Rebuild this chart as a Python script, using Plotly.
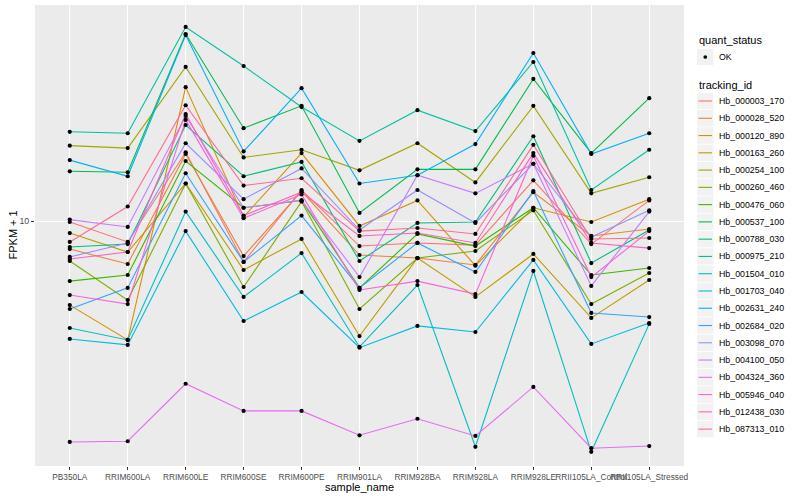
import plotly.graph_objects as go

# ---------------- data ----------------
sample_names = ["PB350LA", "RRIM600LA", "RRIM600LE", "RRIM600SE", "RRIM600PE",
                "RRIM901LA", "RRIM928BA", "RRIM928LA", "RRIM928LE",
                "RRII105LA_Control", "RRII105LA_Stressed"]

tracking_ids = ["Hb_000003_170", "Hb_000028_520", "Hb_000120_890", "Hb_000163_260",
                "Hb_000254_100", "Hb_000260_460", "Hb_000476_060", "Hb_000537_100",
                "Hb_000788_030", "Hb_000975_210", "Hb_001504_010", "Hb_001703_040",
                "Hb_002631_240", "Hb_002684_020", "Hb_003098_070", "Hb_004100_050",
                "Hb_004324_360", "Hb_005946_040", "Hb_012438_030", "Hb_087313_010"]

# FPKM + 1 per tracking_id, in sample_names order
Hb_000003_170 = [9.93, 8.60, 16.4, 7.45, 12.5, 8.35, 8.54, 8.41, 13.4, 8.47, 11.6]
Hb_000028_520 = [8.17, 7.34, 16.2, 7.77, 12.4, 7.83, 7.66, 7.29, 12.3, 8.98, 9.44]
Hb_000120_890 = [5.46, 4.25, 26.2, 10.3, 16.3, 9.65, 11.6, 7.25, 11.0, 9.93, 11.7]
Hb_000163_260 = [9.17, 8.00, 13.1, 7.03, 8.79, 4.37, 7.66, 5.79, 7.89, 4.98, 6.54]
Hb_000254_100 = [17.2, 16.9, 30.3, 15.8, 16.7, 14.4, 17.5, 13.2, 22.9, 12.2, 13.7]
Hb_000260_460 = [7.50, 5.66, 13.1, 6.22, 11.5, 5.31, 7.66, 8.06, 10.8, 5.50, 6.88]
Hb_000476_060 = [6.49, 6.78, 15.4, 11.0, 11.6, 6.18, 9.11, 8.35, 11.0, 6.78, 7.13]
Hb_000537_100 = [14.3, 14.2, 38.4, 19.5, 22.9, 10.6, 14.5, 14.5, 27.8, 16.3, 24.2]
Hb_000788_030 = [8.29, 8.47, 19.95, 13.8, 15.3, 7.50, 9.86, 9.93, 18.4, 7.39, 9.37]
Hb_000975_210 = [19.0, 18.8, 40.4, 30.5, 22.7, 17.8, 22.2, 19.1, 31.4, 12.5, 16.7]
Hb_001504_010 = [4.63, 4.25, 10.7, 5.79, 7.94, 4.04, 6.31, 1.97, 6.98, 1.90, 4.77]
Hb_001703_040 = [4.28, 4.10, 9.30, 4.87, 6.00, 4.02, 4.70, 4.50, 7.56, 4.13, 4.80]
Hb_002631_240 = [15.5, 13.8, 38.1, 16.5, 26.0, 13.1, 13.9, 17.4, 33.5, 16.2, 18.8]
Hb_002684_020 = [5.31, 6.18, 14.1, 7.45, 10.4, 6.18, 8.54, 6.93, 12.4, 5.16, 5.01]
Hb_003098_070 = [7.72, 8.54, 17.5, 11.7, 14.6, 9.37, 12.5, 9.86, 15.1, 8.91, 10.8]
Hb_004100_050 = [10.1, 9.58, 21.3, 11.0, 11.6, 6.68, 13.9, 12.2, 15.1, 6.27, 10.7]
Hb_004324_360 = [2.04, 2.05, 3.10, 2.55, 2.55, 2.14, 2.41, 2.13, 3.03, 1.95, 1.98]
Hb_005946_040 = [5.87, 5.50, 20.7, 10.2, 12.1, 6.09, 6.49, 5.91, 16.0, 6.68, 9.30]
Hb_012438_030 = [7.61, 8.00, 21.6, 10.4, 12.3, 8.98, 9.17, 8.54, 16.3, 8.54, 8.23]
Hb_087313_010 = [8.60, 11.1, 23.0, 12.9, 13.6, 9.30, 9.51, 9.11, 17.3, 8.79, 8.85]

series = [Hb_000003_170, Hb_000028_520, Hb_000120_890, Hb_000163_260, Hb_000254_100,
          Hb_000260_460, Hb_000476_060, Hb_000537_100, Hb_000788_030, Hb_000975_210,
          Hb_001504_010, Hb_001703_040, Hb_002631_240, Hb_002684_020, Hb_003098_070,
          Hb_004100_050, Hb_004324_360, Hb_005946_040, Hb_012438_030, Hb_087313_010]

quant_status = ["OK"]

# ---------------- style ----------------
colors = ["#F8766D", "#EA8331", "#D89000", "#C09B00", "#A3A500", "#7CAE00", "#39B600",
          "#00BB4E", "#00BF7D", "#00C1A3", "#00BFC4", "#00BAE0", "#00B0F6", "#35A2FF",
          "#9590FF", "#C77CFF", "#E76BF3", "#FA62DB", "#FF62BC", "#FF6C91"]

FONT = "Liberation Sans, Arial, Helvetica, sans-serif"
W, H = 800, 500
PL, PR, PT, PB = 35, 684, 5, 466  # panel box in pixels


def px_x(p):
    return (p - PL) / (PR - PL)


def px_y(p):
    return (PB - p) / (PB - PT)


fig = go.Figure()

for name, vals, col in zip(tracking_ids, series, colors):
    fig.add_trace(go.Scatter(x=sample_names, y=vals, mode="lines", name=name,
                             line=dict(color=col, width=1.1), showlegend=False,
                             hoverinfo="x+y+name"))

# points (quant_status = OK)
all_x, all_y = [], []
for vals in series:
    all_x += sample_names
    all_y += vals
fig.add_trace(go.Scatter(x=all_x, y=all_y, mode="markers", name=quant_status[0],
                         marker=dict(color="black", size=4.2), showlegend=False))

shapes = []
annotations = []

# ---- manual ggplot-like legend ----
LX = 697
KEY = 17.27
TXT_X = 717

annotations.append(dict(text="quant_status", x=px_x(LX), y=px_y(40.5), xref="paper",
                        yref="paper", xanchor="left", yanchor="middle", showarrow=False,
                        font=dict(family=FONT, size=11, color="black")))
yc = 57
shapes.append(dict(type="rect", xref="paper", yref="paper", x0=px_x(LX), x1=px_x(LX + 16.5),
                   y0=px_y(yc - 8.2), y1=px_y(yc + 8.2), fillcolor="#F2F2F2",
                   line=dict(width=0), layer="above"))
shapes.append(dict(type="circle", xref="paper", yref="paper", x0=px_x(LX + 6.4),
                   x1=px_x(LX + 10.1), y0=px_y(yc - 1.85), y1=px_y(yc + 1.85),
                   fillcolor="black", line=dict(width=0), layer="above"))
annotations.append(dict(text=quant_status[0], x=px_x(TXT_X), y=px_y(yc), xref="paper",
                        yref="paper", xanchor="left", yanchor="middle", showarrow=False,
                        font=dict(family=FONT, size=8.8, color="black")))

annotations.append(dict(text="tracking_id", x=px_x(LX), y=px_y(84.5), xref="paper",
                        yref="paper", xanchor="left", yanchor="middle", showarrow=False,
                        font=dict(family=FONT, size=11, color="black")))
for i, (name, col) in enumerate(zip(tracking_ids, colors)):
    yc = 101 + i * KEY
    shapes.append(dict(type="rect", xref="paper", yref="paper", x0=px_x(LX),
                       x1=px_x(LX + 16.5), y0=px_y(yc - 8.2), y1=px_y(yc + 8.2),
                       fillcolor="#F2F2F2", line=dict(width=0), layer="above"))
    shapes.append(dict(type="line", xref="paper", yref="paper", x0=px_x(LX + 1.5),
                       x1=px_x(LX + 15), y0=px_y(yc), y1=px_y(yc),
                       line=dict(color=col, width=1.1), layer="above"))
    annotations.append(dict(text=name, x=px_x(TXT_X), y=px_y(yc), xref="paper",
                            yref="paper", xanchor="left", yanchor="middle", showarrow=False,
                            font=dict(family=FONT, size=8.8, color="black")))

# axis titles
annotations.append(dict(text="sample_name", x=0.5, y=px_y(487), xref="paper", yref="paper",
                        xanchor="center", yanchor="middle", showarrow=False,
                        font=dict(family=FONT, size=11, color="black")))
annotations.append(dict(text="FPKM + 1", x=px_x(12), y=px_y(235.5), xref="paper",
                        yref="paper", xanchor="center", yanchor="middle", showarrow=False,
                        textangle=-90, font=dict(family=FONT, size=11, color="black")))

fig.update_layout(
    width=W, height=H,
    margin=dict(l=PL, r=W - PR, t=PT, b=H - PB, autoexpand=False),
    paper_bgcolor="white",
    plot_bgcolor="#EBEBEB",
    showlegend=False,
    font=dict(family=FONT, size=9, color="#4D4D4D"),
    shapes=shapes,
    annotations=annotations,
    xaxis=dict(type="category", categoryorder="array", categoryarray=sample_names,
               range=[-0.6, len(sample_names) - 0.4], showgrid=True, gridcolor="white",
               gridwidth=1.1, ticks="outside", ticklen=3, tickwidth=1, tickcolor="#333333",
               tickangle=0, tickfont=dict(family=FONT, size=8.3, color="#4D4D4D"),
               showline=False, zeroline=False, automargin=False),
    yaxis=dict(type="log", range=[0.2344, 1.675], tickvals=[10], ticktext=["10"],
               showgrid=True, gridcolor="white", gridwidth=1.1, ticks="outside", ticklen=3,
               tickwidth=1, tickcolor="#333333",
               tickfont=dict(family=FONT, size=8.8, color="#4D4D4D"),
               showline=False, zeroline=False, automargin=False),
)

fig.write_html("out.html", config={"displayModeBar": False},
               post_script="document.body.style.margin='0';document.body.style.padding='0';")
